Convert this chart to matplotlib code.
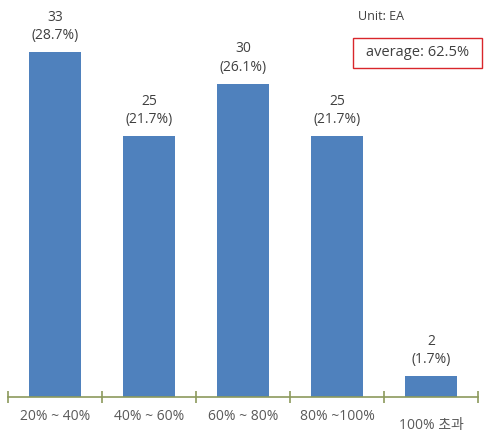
import matplotlib
matplotlib.use("Agg")
import matplotlib.pyplot as plt
from matplotlib.patches import Rectangle

plt.rcParams['font.family'] = ['Open Sans', 'Noto Sans CJK KR', 'DejaVu Sans']

categories = ["20% ~ 40%", "40% ~ 60%", "60% ~ 80%", "80% ~100%", "100% 초과"]
counts = [33, 25, 30, 25, 2]
percents = ["28.7%", "21.7%", "26.1%", "21.7%", "1.7%"]

fig = plt.figure(figsize=(4.84, 4.37), dpi=100)
ax = fig.add_axes([8/484, 40/437, 470/484, 397/437])

x = list(range(len(categories)))
bars = ax.bar(x, counts, width=0.55, color="#4F81BD")
for xi, c, p in zip(x, counts, percents):
    ax.text(xi, c + 0.85, f"{c}\n({p})", ha="center", va="bottom",
            fontsize=10, color="#404040", linespacing=1.3)

ax.set_xlim(-0.5, 4.5)
ax.set_ylim(0, 38)
for s in ["top", "right", "left"]:
    ax.spines[s].set_visible(False)
ax.spines["bottom"].set_color("#8C9A5C")
ax.spines["bottom"].set_linewidth(1.2)
ax.set_yticks([])
ax.set_xticks(x)
ax.set_xticklabels(categories, fontsize=10, color="#595959")
ax.tick_params(axis="x", which="major", length=0, pad=9)
ax.set_xticks([i - 0.5 for i in range(len(categories) + 1)], minor=True)
ax.tick_params(axis="x", which="minor", length=8, direction="inout",
               color="#8C9A5C", width=1.2)
lbls = ax.get_xticklabels()
lbls[-1].set_y(-0.022)

fig.text(358/484, 1 - 17/437, "Unit: EA", fontsize=9, color="#404040",
         ha="left", va="center")
fig.patches.append(Rectangle((353/484, 1 - 68/437), 129/484, 30/437,
                             transform=fig.transFigure, fc="white",
                             ec="#D9262B", lw=1.0))
fig.text(417.5/484, 1 - 53/437, "average: 62.5%", fontsize=10.5, color="#404040",
         ha="center", va="center")

fig.savefig("out.png", dpi=100)
